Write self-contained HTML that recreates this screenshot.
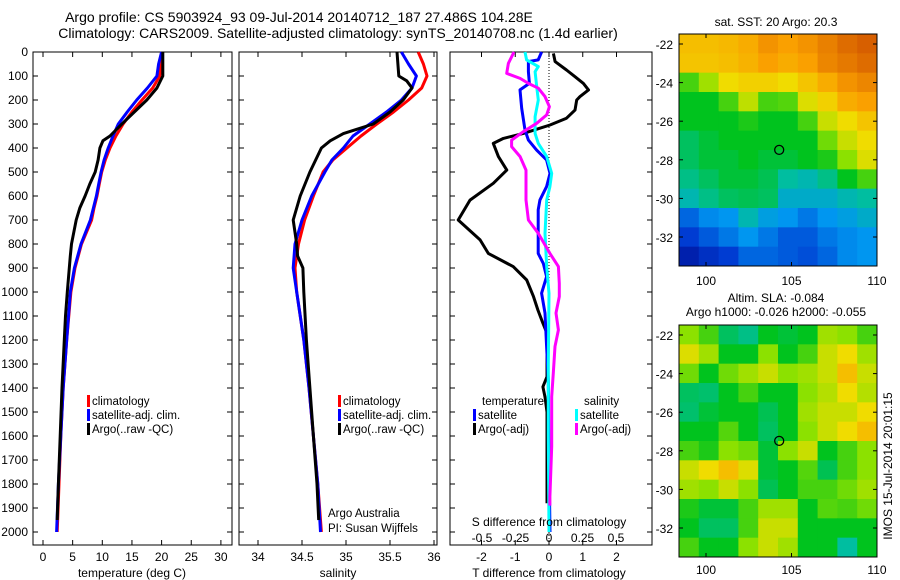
<!DOCTYPE html>
<html><head><meta charset="utf-8"><style>
body{margin:0;background:#fff}
svg{display:block;font-family:"Liberation Sans",sans-serif}
</style></head><body>
<svg id="fig" width="900" height="580" viewBox="0 0 900 580" xmlns="http://www.w3.org/2000/svg">
<rect width="900" height="580" fill="#fff"/>
<text x="299" y="22" font-size="14" text-anchor="middle">Argo profile: CS 5903924_93 09-Jul-2014 20140712_187 27.486S 104.28E</text>
<text x="338" y="38" font-size="14" text-anchor="middle">Climatology: CARS2009. Satellite-adjusted climatology: synTS_20140708.nc (1.4d earlier)</text>
<g id="g"></g>
</svg>
<script>
// ---- temperature panel data ----
const tDepth=[0,50,100,150,200,250,300,350,400,450,500,550,600,650,700,800,900,1000,1200,1400,1600,1800,2000];
const tClim=[20.0,19.9,19.7,18.5,16.7,15.0,13.5,12.3,11.3,10.5,9.9,9.5,9.1,8.6,8.2,6.5,5.4,4.7,4.0,3.4,3.0,2.7,2.4];
const tSat=[20.0,19.5,19.2,17.6,15.8,14.2,12.7,11.8,11.0,10.3,9.8,9.4,9.0,8.5,8.0,6.4,5.3,4.6,4.0,3.4,3.0,2.6,2.3];
const tArgoDepth=[0,100,150,200,250,300,350,370,400,450,500,550,600,650,700,800,850,1000,1100,1200,1400,1600,1800,1950];
const tArgo=[20.2,20.2,19.2,17.5,15.4,13.3,11.3,10.1,9.6,9.3,8.8,7.9,7.1,6.2,5.6,4.8,4.6,4.1,3.8,3.6,3.2,2.9,2.6,2.4];
// ---- salinity panel data ----
const sDepth=[0,50,100,150,200,250,300,350,400,450,500,600,700,800,900,1000,1200,1400,1600,1800,2000];
const sClim=[35.82,35.88,35.92,35.86,35.71,35.54,35.35,35.17,35.01,34.85,34.74,34.63,34.53,34.46,34.42,34.44,34.52,34.58,34.63,34.68,34.72];
const sSat=[35.63,35.71,35.80,35.75,35.63,35.46,35.27,35.08,34.97,34.84,34.76,34.61,34.50,34.42,34.40,34.44,34.52,34.58,34.63,34.68,34.71];
const sArgoDepth=[0,100,120,150,200,250,300,340,370,400,500,600,700,800,850,900,1000,1200,1400,1600,1800,1950];
const sArgo=[35.58,35.6,35.69,35.75,35.65,35.5,35.31,34.97,34.82,34.72,34.59,34.48,34.40,34.44,34.45,34.51,34.52,34.55,34.59,34.63,34.67,34.69];
// ---- difference panel data ----
const dtSatDepth=[0,33,40,82,131,158,235,325,367,408,450,506,561,617,658,839,881,936,1005,1088,1227,1367,1700,2000];
const dtSat=[-0.22,-0.32,-0.61,-0.61,-0.58,-0.86,-0.81,-0.71,-0.61,-0.37,-0.07,0.03,-0.07,-0.27,-0.32,-0.32,-0.17,-0.07,-0.22,-0.12,-0.07,-0.02,0.0,0.03];
const dtArgoDepth=[6,40,75,103,131,158,186,200,242,276,304,339,360,381,436,492,547,617,700,783,839,894,950,1019,1075,1130,1172,1353,1395,1437,1500,1880];
const dtArgo=[0.13,0.18,0.52,0.77,1.02,1.17,0.92,0.82,0.77,0.52,0.03,-0.76,-1.35,-1.65,-1.5,-1.25,-1.65,-2.34,-2.69,-2.04,-1.8,-1.06,-0.66,-0.46,-0.33,-0.18,-0.06,-0.06,-0.18,-0.12,-0.06,-0.06];
const dsSatDepth=[0,33,61,82,144,200,269,339,381,436,506,561,617,756,894,1006,1300,1600,2000];
const dsSat=[-0.179,-0.167,-0.08,-0.104,-0.092,-0.08,-0.104,-0.104,-0.08,-0.017,0.02,0.007,-0.017,-0.03,-0.017,0.0,-0.005,-0.005,0.0];
const dsArgoDepth=[0,47,89,110,131,151,186,228,262,297,332,367,394,436,492,617,700,756,839,894,964,1019,1088,1158,1227,1338,1436,1644,1853,1890];
const dsArgo=[-0.261,-0.303,-0.316,-0.216,-0.154,-0.08,-0.03,0.003,-0.017,-0.092,-0.192,-0.279,-0.279,-0.216,-0.172,-0.172,-0.154,-0.08,0.007,0.07,0.077,0.077,0.052,0.07,0.045,0.032,0.02,0.02,0.007,0.007];
// ---- map grids (colour index 0..1) ----
const sstGrid=[
[0.75,0.75,0.76,0.78,0.82,0.8,0.82,0.85,0.88,0.9],
[0.74,0.74,0.75,0.77,0.8,0.78,0.8,0.84,0.86,0.88],
[0.55,0.62,0.7,0.72,0.72,0.7,0.74,0.78,0.82,0.84],
[0.5,0.5,0.55,0.65,0.55,0.56,0.68,0.72,0.78,0.8],
[0.5,0.5,0.5,0.52,0.5,0.5,0.55,0.66,0.7,0.74],
[0.45,0.48,0.5,0.5,0.5,0.5,0.5,0.58,0.66,0.7],
[0.45,0.48,0.48,0.5,0.48,0.48,0.5,0.52,0.6,0.68],
[0.42,0.45,0.48,0.48,0.46,0.4,0.38,0.42,0.5,0.55],
[0.38,0.42,0.45,0.46,0.45,0.35,0.35,0.35,0.38,0.4],
[0.22,0.28,0.3,0.38,0.32,0.3,0.25,0.3,0.32,0.35],
[0.15,0.2,0.25,0.3,0.25,0.2,0.2,0.25,0.28,0.3],
[0.08,0.12,0.15,0.22,0.22,0.2,0.18,0.22,0.28,0.3]];
const slaGrid=[
[0.6,0.55,0.45,0.42,0.5,0.48,0.5,0.62,0.6,0.55],
[0.68,0.62,0.5,0.5,0.6,0.5,0.55,0.66,0.7,0.62],
[0.58,0.5,0.58,0.62,0.66,0.6,0.62,0.66,0.75,0.66],
[0.45,0.44,0.5,0.55,0.5,0.5,0.6,0.64,0.7,0.64],
[0.44,0.48,0.5,0.5,0.46,0.5,0.62,0.66,0.66,0.7],
[0.5,0.5,0.56,0.5,0.45,0.5,0.6,0.66,0.7,0.75],
[0.55,0.52,0.6,0.58,0.48,0.6,0.66,0.5,0.55,0.6],
[0.66,0.7,0.75,0.68,0.48,0.5,0.56,0.46,0.55,0.6],
[0.62,0.6,0.66,0.6,0.46,0.5,0.55,0.55,0.58,0.62],
[0.52,0.48,0.48,0.55,0.62,0.62,0.5,0.56,0.55,0.58],
[0.5,0.45,0.45,0.55,0.66,0.66,0.5,0.5,0.5,0.5],
[0.55,0.5,0.5,0.6,0.66,0.62,0.5,0.5,0.4,0.5]];
const depthTicks=[0,100,200,300,400,500,600,700,800,900,1000,1100,1200,1300,1400,1500,1600,1700,1800,1900,2000];
const tTicks=[0,5,10,15,20,25,30];
const sTicks=[34,34.5,35,35.5,36];
const dtTicks=[-2,-1,0,1,2];
const dsTicks=[-0.5,-0.25,0,0.25,0.5];
const latTicks=[-22,-24,-26,-28,-30,-32];
const lonTicks=[100,105,110];
const argoLon=104.28, argoLat=-27.486;

const NS='http://www.w3.org/2000/svg';
const G=document.getElementById('g');
function mk(tag,attrs,parent){const e=document.createElementNS(NS,tag);for(const k in attrs)e.setAttribute(k,attrs[k]);(parent||G).appendChild(e);return e;}
function txt(x,y,s,size,anchor,name){const e=mk('text',{x:x,y:y,'font-size':size,'text-anchor':anchor||'start'});e.textContent=s;


return e;}
const yD=d=>52+d*0.24;
const xT=t=>43+t*5.93;
const xS=s=>258+(s-34)*88;
const xDT=v=>549+v*33.75;
const xDS=v=>549+v*134;
const P=[{x0:33,x1:232},{x0:239,x1:437},{x0:450,x1:652}];
const Y0=52,Y1=545;

P.forEach((p,i)=>{
  const r=mk('rect',{x:p.x0,y:Y0,width:p.x1-p.x0,height:Y1-Y0,fill:'none',stroke:'#000','stroke-width':1});
  
  
  depthTicks.forEach(d=>{
    mk('line',{x1:p.x0,x2:p.x0+5,y1:yD(d),y2:yD(d),stroke:'#000'});
    mk('line',{x1:p.x1-5,x2:p.x1,y1:yD(d),y2:yD(d),stroke:'#000'});
  });
});
depthTicks.forEach(d=>txt(28,yD(d)+4,String(d),12,'end','depth-tick-label'));

function line(xs,ds,fx,color,name,w){
  const pts=xs.map((v,i)=>fx(v).toFixed(1)+','+yD(ds[i]).toFixed(1)).join(' ');
  const e=mk('polyline',{points:pts,fill:'none',stroke:color,'stroke-width':w||3,'stroke-linejoin':'round'});
  
  
}
function xticks(ticks,fx,p,labelY,name,top){
  ticks.forEach(t=>{
    const x=fx(t);
    mk('line',{x1:x,x2:x,y1:Y1-5,y2:Y1,stroke:'#000'});
    if(top!==false) mk('line',{x1:x,x2:x,y1:Y0,y2:Y0+5,stroke:'#000'});
    txt(x,labelY,String(t),12,'middle',name);
  });
}
xticks(tTicks,xT,P[0],561,'temperature-tick-label');
line(tClim,tDepth,xT,'#f00','temperature-climatology-line');
line(tSat,tDepth,xT,'#00f','temperature-satellite-line');
line(tArgo,tArgoDepth,xT,'#000','temperature-argo-line');
txt(132,577,'temperature (deg C)',12,'middle','temperature-axis-title');
xticks(sTicks,xS,P[1],561,'salinity-tick-label');
line(sClim,sDepth,xS,'#f00','salinity-climatology-line');
line(sSat,sDepth,xS,'#00f','salinity-satellite-line');
line(sArgo,sArgoDepth,xS,'#000','salinity-argo-line');
txt(338,577,'salinity',12,'middle','salinity-axis-title');
xticks(dtTicks,xDT,P[2],561,'t-difference-tick-label');
dsTicks.forEach(t=>{txt(xDS(t),542,String(t),12,'middle','s-difference-tick-label');});
const dl=mk('line',{x1:549,x2:549,y1:Y0,y2:Y1,stroke:'#000','stroke-dasharray':'1,2'});


line(dtArgo,dtArgoDepth,xDT,'#000','t-difference-argo-line');
line(dtSat,dtSatDepth,xDT,'#00f','t-difference-satellite-line');
line(dsSat,dsSatDepth,xDS,'#0ff','s-difference-satellite-line');
line(dsArgo,dsArgoDepth,xDS,'#f0f','s-difference-argo-line');
txt(549,526,'S difference from climatology',12,'middle','s-difference-axis-title');
txt(549,577,'T difference from climatology',12,'middle','t-difference-axis-title');

function legend(x,y,color,label,name){
  const b=mk('rect',{x:x,y:y-10,width:3,height:12,fill:color});
  
  
  txt(x+5,y,label,11.5,'start',name);
}
legend(87,405,'#f00','climatology','legend-climatology');
legend(87,419,'#00f','satellite-adj. clim.','legend-satellite');
legend(87,433,'#000','Argo(..raw -QC)','legend-argo');
legend(338,405,'#f00','climatology','legend-s-climatology');
legend(338,419,'#00f','satellite-adj. clim.','legend-s-satellite');
legend(338,433,'#000','Argo(..raw -QC)','legend-s-argo');
txt(482,405,'temperature',11.5,'start','legend-temperature-heading');
legend(473,419,'#00f','satellite','legend-t-satellite');
legend(473,433,'#000','Argo(-adj)','legend-t-argo');
txt(584,405,'salinity',11.5,'start','legend-salinity-heading');
legend(575,419,'#0ff','satellite','legend-s-sat');
legend(575,433,'#f0f','Argo(-adj)','legend-s-argo-adj');
txt(328,517,'Argo Australia',11.5,'start','credit-argo-australia');
txt(328,532,'PI: Susan Wijffels',11.5,'start','credit-pi');

const stops=[[0,[0,0,130]],[0.15,[0,60,210]],[0.3,[0,150,240]],[0.4,[0,190,160]],[0.5,[0,195,30]],[0.6,[140,225,0]],[0.7,[240,220,0]],[0.8,[250,160,0]],[0.9,[215,95,0]],[1,[170,40,0]]];
function cmap(v){for(let i=1;i<stops.length;i++){if(v<=stops[i][0]){const a=stops[i-1],b=stops[i],f=(v-a[0])/(b[0]-a[0]);const c=a[1].map((q,k)=>Math.round(q+(b[1][k]-q)*f));return 'rgb('+c.join(',')+')';}}return 'rgb(170,40,0)';}
function map(grid,top,name,labY){
  const x0=679,x1=877,y1=top+232;
  const lonX=l=>706+(l-100)*17.1, latY=l=>top+10+(-22-l)*19.3;
  const rows=grid.length,cols=grid[0].length,cw=(x1-x0)/cols,ch=(y1-top)/rows;
  grid.forEach((row,r)=>row.forEach((v,c)=>{
    const e=mk('rect',{x:(x0+c*cw).toFixed(2),y:(top+r*ch).toFixed(2),width:(cw+0.5).toFixed(2),height:(ch+0.5).toFixed(2),fill:cmap(v)});
    
    
  }));
  const f=mk('rect',{x:x0,y:top,width:x1-x0,height:232,fill:'none',stroke:'#000'});
  
  
  latTicks.forEach(l=>{const y=latY(l);mk('line',{x1:x0,x2:x0+4,y1:y,y2:y,stroke:'#000'});mk('line',{x1:x1-4,x2:x1,y1:y,y2:y,stroke:'#000'});txt(673,y+5,String(l),12,'end',name+'-lat-label');});
  lonTicks.forEach(l=>{const x=lonX(l);mk('line',{x1:x,x2:x,y1:top,y2:top+4,stroke:'#000'});mk('line',{x1:x,x2:x,y1:y1-4,y2:y1,stroke:'#000'});txt(x,labY,String(l),12,'middle',name+'-lon-label');});
  const m=mk('circle',{cx:lonX(argoLon),cy:latY(argoLat),r:4.5,fill:'none',stroke:'#000','stroke-width':1.3});
  
  
}
map(sstGrid,34,'sst-map',285);
map(slaGrid,325,'sla-map',574);
txt(776,26,'sat. SST: 20 Argo: 20.3',12,'middle','sst-map-title');
txt(776,302,'Altim. SLA: -0.084',12,'middle','sla-map-title');
txt(776,316,'Argo h1000: -0.026 h2000: -0.055',12,'middle','sla-map-subtitle');
const im=txt(0,0,'IMOS 15-Jul-2014 20:01:15',12,'middle','imos-timestamp');
im.setAttribute('transform','translate(892,466) rotate(-90)');
</script>
</body></html>
